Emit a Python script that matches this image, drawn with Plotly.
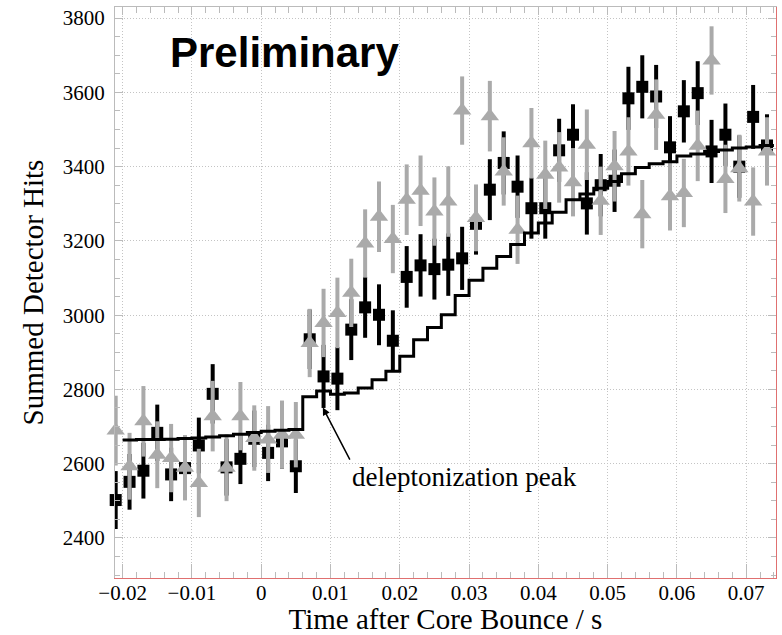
import plotly.graph_objects as go

# ---------------- data ----------------
time_s = [-0.021, -0.019, -0.017, -0.015, -0.013, -0.011, -0.009, -0.007, -0.005, -0.003,
          -0.001, 0.001, 0.003, 0.005, 0.007, 0.009, 0.011, 0.013, 0.015, 0.017,
          0.019, 0.021, 0.023, 0.025, 0.027, 0.029, 0.031, 0.033, 0.035, 0.037,
          0.039, 0.041, 0.043, 0.045, 0.047, 0.049, 0.051, 0.053, 0.055, 0.057,
          0.059, 0.061, 0.063, 0.065, 0.067, 0.069, 0.071, 0.073]

black_hits = [2502, 2551, 2581, 2683, 2571, 2588, 2649, 2788, 2590, 2613,
              2667, 2629, 2660, 2593, 2935, 2835, 2829, 2961, 3021, 3001,
              2931, 3103, 3134, 3124, 3136, 3153, 3246, 3338, 3410, 3346,
              3288, 3288, 3444, 3486, 3301, 3350, 3362, 3584, 3615, 3589,
              3452, 3549, 3598, 3441, 3486, 3400, 3534, 3457]
black_err = [78, 75, 75, 76, 72, 76, 75, 80, 76, 68, 76, 76, 74, 72, 80, 85,
             85, 82, 82, 82, 82, 83, 84, 82, 84, 85, 83, 82, 85, 84, 82, 82,
             85, 82, 84, 84, 84, 85, 85, 85, 84, 84, 86, 85, 84, 84, 86, 84]

grey_hits = [2689, 2593, 2714, 2624, 2615, 2589, 2548, 2728, 2589, 2728,
             2669, 2665, 2678, 2678, 2925, 2979, 3006, 3060, 3193, 3265,
             3205, 3311, 3335, 3279, 3306, 3551, 3262, 3536, 3387, 3230,
             3463, 3378, 3398, 3358, 3459, 3308, 3401, 3441, 3272, 3540,
             3320, 3329, 3456, 3686, 3367, 3396, 3306, 3441]
grey_err = [94, 90, 95, 90, 92, 88, 92, 95, 90, 92, 88, 90, 92, 88, 92, 92,
            95, 92, 92, 95, 92, 95, 95, 92, 95, 92, 90, 95, 92, 92, 95, 92,
            95, 92, 95, 92, 95, 92, 92, 95, 92, 92, 95, 92, 92, 90, 92, 92]

model_edges = [-0.020, -0.018, -0.016, -0.014, -0.012, -0.010, -0.008, -0.006, -0.004, -0.002,
               0.000, 0.002, 0.004, 0.006, 0.008, 0.010, 0.012, 0.014, 0.016, 0.018,
               0.020, 0.022, 0.024, 0.026, 0.028, 0.030, 0.032, 0.034, 0.036, 0.038,
               0.040, 0.042, 0.044, 0.046, 0.048, 0.050, 0.052, 0.054, 0.056, 0.058,
               0.060, 0.062, 0.064, 0.066, 0.068, 0.070, 0.072, 0.074]
model_hits = [2664, 2665, 2665, 2666, 2668, 2669, 2672, 2675, 2679, 2684,
              2687, 2690, 2692, 2780, 2796, 2787, 2790, 2804, 2826, 2849,
              2889, 2934, 2967, 3001, 3053, 3094, 3126, 3158, 3190, 3221,
              3248, 3277, 3311, 3326, 3342, 3360, 3381, 3398, 3408, 3413,
              3429, 3434, 3441, 3445, 3450, 3453, 3457]

x_tick_vals = [-0.02, -0.01, 0, 0.01, 0.02, 0.03, 0.04, 0.05, 0.06, 0.07]
y_tick_vals = [2400, 2600, 2800, 3000, 3200, 3400, 3600, 3800]

# ---------------- figure ----------------
BLACK = "#000000"
GREY = "#aaaaaa"
SERIF = "Liberation Serif, Times New Roman, serif"

fig = go.Figure()

fig.add_trace(go.Scatter(
    x=time_s, y=black_hits, mode="markers", cliponaxis=False,
    marker=dict(symbol="square", size=12, color=BLACK),
    error_y=dict(type="data", array=black_err, visible=True, thickness=4, width=0, color=BLACK),
    showlegend=False, hoverinfo="skip"))

fig.add_trace(go.Scatter(
    x=time_s, y=grey_hits, mode="markers", cliponaxis=False,
    marker=dict(symbol="triangle-up", size=16, color=GREY),
    error_y=dict(type="data", array=grey_err, visible=True, thickness=4, width=0, color=GREY),
    showlegend=False, hoverinfo="skip"))

fig.add_trace(go.Scatter(
    x=model_edges, y=model_hits + [model_hits[-1]], mode="lines",
    line=dict(shape="hv", color=BLACK, width=3),
    showlegend=False, hoverinfo="skip"))

# invisible trace so the mirrored axes (top / right) exist
fig.add_trace(go.Scatter(x=[time_s[0]], y=[black_hits[0]], xaxis="x2", yaxis="y2",
                         mode="markers", marker=dict(opacity=0), showlegend=False, hoverinfo="skip"))

XR = [-0.0211, 0.0743]
YR = [2292, 3830]
TICKC = "#bbbbbb"
RED = "#e07070"
GRID = "#c4c4c4"

fig.update_layout(
    width=782, height=635,
    margin=dict(l=115, r=6, t=7, b=57),
    paper_bgcolor="white", plot_bgcolor="white",
    font=dict(family=SERIF, color="black"),
    xaxis=dict(
        range=XR, tickvals=x_tick_vals,
        showline=True, linecolor=RED, linewidth=1,
        ticks="inside", ticklen=14, tickcolor=TICKC, tickwidth=1,
        minor=dict(ticks="inside", ticklen=6, dtick=0.002, tick0=0, tickcolor=TICKC, showgrid=False),
        showgrid=True, gridcolor=GRID, griddash="1px,2px", gridwidth=1,
        zeroline=False,
        tickfont=dict(size=21, family=SERIF),
        ticklabelstandoff=-4,
        title=dict(text="Time after Core Bounce / s", font=dict(size=29, family=SERIF), standoff=6),
        automargin=False,
    ),
    xaxis2=dict(
        range=XR, overlaying="x", side="top", anchor="y",
        showline=True, linecolor=TICKC, linewidth=1,
        tickvals=x_tick_vals, showticklabels=False,
        ticks="inside", ticklen=8, tickcolor=TICKC,
        minor=dict(ticks="inside", ticklen=6, dtick=0.002, tick0=0, tickcolor=TICKC, showgrid=False),
        showgrid=False, zeroline=False,
    ),
    yaxis=dict(
        range=YR, tickvals=y_tick_vals,
        showline=True, linecolor=TICKC, linewidth=1,
        ticks="inside", ticklen=8, tickcolor=TICKC,
        minor=dict(ticks="inside", ticklen=5, dtick=50, tick0=0, tickcolor=TICKC, showgrid=False),
        showgrid=True, gridcolor=GRID, griddash="1px,2px", gridwidth=1,
        zeroline=False,
        tickfont=dict(size=21, family=SERIF),
        ticklabelstandoff=5,
        title=dict(text="Summed Detector Hits", font=dict(size=29, family=SERIF), standoff=10),
        automargin=False,
    ),
    yaxis2=dict(
        range=YR, overlaying="y", side="right", anchor="x",
        showline=True, linecolor=RED, linewidth=1,
        tickvals=y_tick_vals, showticklabels=False,
        ticks="inside", ticklen=8, tickcolor=TICKC,
        minor=dict(ticks="inside", ticklen=5, dtick=50, tick0=0, tickcolor=TICKC, showgrid=False),
        showgrid=False, zeroline=False,
    ),
    annotations=[
        dict(text="<b>Preliminary</b>", xref="paper", yref="paper", x=0.08, y=0.921,
             xanchor="left", yanchor="middle", showarrow=False,
             font=dict(family="Liberation Sans, Arial, sans-serif", size=42, color="black")),
        dict(text="deleptonization peak", xref="x", yref="y", x=0.0089, y=2751,
             ax=27, ay=52, xanchor="left", yanchor="top",
             showarrow=True, arrowhead=2, arrowsize=1, arrowwidth=1.5, arrowcolor="black",
             font=dict(family=SERIF, size=27, color="black")),
    ],
)

fig.write_html("out.html", config={"displayModeBar": False},
               post_script="document.body.style.margin='0px';")
